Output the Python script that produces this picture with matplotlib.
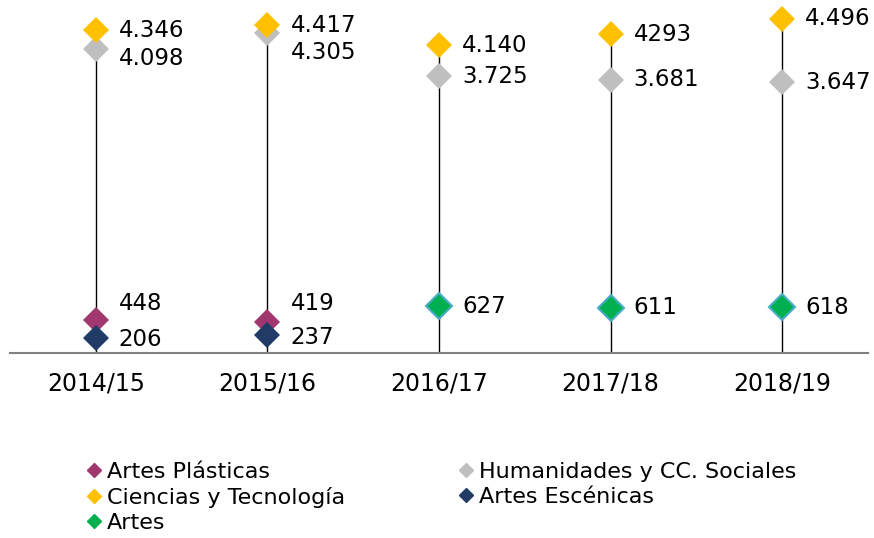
import matplotlib
matplotlib.use("Agg")
import matplotlib.pyplot as plt
from matplotlib.lines import Line2D
import numpy as np

years = ["2014/15", "2015/16", "2016/17", "2017/18", "2018/19"]
artes_plasticas = [448, 419, np.nan, np.nan, np.nan]
humanidades = [4098, 4305, 3725, 3681, 3647]
ciencias = [4346, 4417, 4140, 4293, 4496]
artes_escenicas = [206, 237, np.nan, np.nan, np.nan]
artes = [np.nan, np.nan, 627, 611, 618]

lab_plasticas = ["448", "419", "", "", ""]
lab_humanidades = ["4.098", "4.305", "3.725", "3.681", "3.647"]
lab_ciencias = ["4.346", "4.417", "4.140", "4293", "4.496"]
lab_escenicas = ["206", "237", "", "", ""]
lab_artes = ["", "", "627", "611", "618"]

def main():
    W, H = 874, 538
    fig = plt.figure(figsize=(W / 100, H / 100), dpi=100)
    ax = fig.add_axes([10 / W, (H - 353) / H, 858 / W, 353 / H])

    x = np.arange(len(years))
    ax.set_xlim(-0.5, len(years) - 0.5)
    ax.set_ylim(0, 4751)

    # high-low lines from the axis up to the top value
    tops = np.nanmax([ciencias, humanidades], axis=0)
    ax.vlines(x, 0, tops, color="black", lw=1, zorder=1)

    series = [
        (artes_plasticas, lab_plasticas, "#a0376f", None, "Artes Plásticas", [16, 18, 0, 0, 0]),
        (humanidades, lab_humanidades, "#bfbfbf", None, "Humanidades y CC. Sociales", [-10, -19, 0, 0, 0]),
        (ciencias, lab_ciencias, "#ffc000", None, "Ciencias y Tecnología", [0, -1, 0, 0, 0]),
        (artes_escenicas, lab_escenicas, "#1f3b66", None, "Artes Escénicas", [-2, -2, 0, 0, 0]),
        (artes, lab_artes, "#00b050", "#4bacc6", "Artes", [0, 0, 0, 0, 0]),
    ]

    handles = {}
    for vals, labs, col, edge, name, dys in series:
        ec = edge if edge else col
        ax.plot(x, vals, ls="none", marker="D", ms=13.5, mfc=col, mec=ec,
                mew=1.5 if edge else 0, zorder=3)
        for xi, v, t, dy in zip(x, vals, labs, dys):
            if t:
                ax.annotate(t, (xi, v), xytext=(23, dy), textcoords="offset pixels",
                            ha="left", va="center", fontsize=16.5, color="black")
        handles[name] = Line2D([], [], ls="none", marker="D", ms=7, mfc=col, mec=col)

    for s in ["top", "left", "right"]:
        ax.spines[s].set_visible(False)
    ax.spines["bottom"].set_color("#808080")
    ax.spines["bottom"].set_linewidth(1.5)
    ax.set_yticks([])
    ax.set_xticks(x)
    ax.set_xticklabels(years, fontsize=17)
    ax.tick_params(axis="x", length=0, pad=13)

    col1 = ["Artes Plásticas", "Ciencias y Tecnología", "Artes"]
    col2 = ["Humanidades y CC. Sociales", "Artes Escénicas"]
    kw = dict(frameon=False, fontsize=16, handlelength=0.6, handletextpad=0.3,
              labelspacing=0.22, borderpad=0, loc="upper left",
              bbox_transform=fig.transFigure)
    fig.legend([handles[n] for n in col1], col1,
               bbox_to_anchor=(76 / W, 1 - 451 / H), **kw)
    fig.legend([handles[n] for n in col2], col2,
               bbox_to_anchor=(448 / W, 1 - 451 / H), **kw)

    fig.savefig("out.png", dpi=100)

if __name__ == "__main__":
    main()
